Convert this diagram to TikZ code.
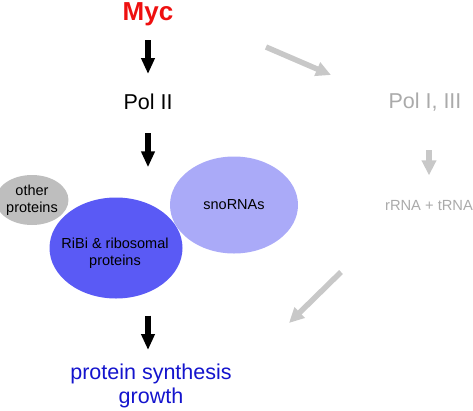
\documentclass[tikz,border=0pt]{standalone}
\usepackage{fontspec}
\setmainfont{Liberation Sans}
\usetikzlibrary{arrows.meta,shapes.geometric}
\definecolor{mycred}{RGB}{238,16,16}
\definecolor{textblue}{RGB}{20,20,205}
\definecolor{ribiblue}{RGB}{90,90,245}
\definecolor{snoblue}{RGB}{170,170,248}
\definecolor{blobgray}{RGB}{190,190,190}
\definecolor{textgray}{RGB}{170,170,170}
\definecolor{arrowgray}{RGB}{200,200,200}
\begin{document}
\begin{tikzpicture}[x=1pt,y=-1pt,
    blackarrow/.style={draw=black,line width=6pt,-{Triangle[length=16pt,width=13pt]}},
    grayarrow/.style={draw=arrowgray,line width=5.5pt,-{Triangle[length=15pt,width=14pt]}},
    blob/.style={ellipse,inner sep=0pt,align=center,font=\fontsize{14.5}{16.5}\selectfont}]

     \useasboundingbox (0,0) rectangle (473,410);

     % the three blobs
     \node[blob,fill=snoblue,minimum width=128pt,minimum height=97pt] (sno) at (234,205) {snoRNAs};
     \node[blob,fill=blobgray,minimum width=64pt,minimum height=50pt] (other) at (32,200) {other\\proteins};
     \node[blob,fill=ribiblue,minimum width=133pt,minimum height=101pt] (ribi) at (116,248) {};
     \node[align=center,font=\fontsize{14.5}{17}\selectfont] (ribitext) at (115,253) {RiBi \& ribosomal\\proteins};

     % text
     \node[text=mycred,font=\fontsize{26}{30}\selectfont\bfseries] (myc) at (148,14) {Myc};
     \node[font=\fontsize{21.5}{24}\selectfont] (pol2) at (148,102) {Pol II};
     \node[text=textgray,font=\fontsize{21.5}{24}\selectfont] (pol13) at (425,102) {Pol I, III};
     \node[text=textgray,font=\fontsize{14.7}{17}\selectfont] (rrna) at (429,205) {rRNA + tRNA};
     \node[text=textblue,align=center,font=\fontsize{21.5}{24}\selectfont] (synth) at (151,386) {protein synthesis\\growth};

     % black arrows
     \draw[blackarrow,shorten <=26pt,shorten >=28pt] (myc.center) -- (pol2.center);
     \draw[blackarrow,shorten <=31pt,shorten >=30pt] (pol2.center) -- (pol2.center |- ribi.north);
     \draw[blackarrow,shorten <=17pt,shorten >=36pt] (pol2 |- ribi.south) -- (pol2 |- synth.center);

     % gray arrows
     \coordinate (graya) at (266,47);
     \coordinate (grayb) at (331,75);
     \coordinate (grayc) at (341,272);
     \coordinate (grayd) at (289,323);
     \draw[grayarrow] (graya) -- (grayb);
     \draw[grayarrow,shorten <=48pt,shorten >=21pt] (rrna |- pol13) -- (rrna);
     \draw[grayarrow] (grayc) -- (grayd);
\end{tikzpicture}
\end{document}
